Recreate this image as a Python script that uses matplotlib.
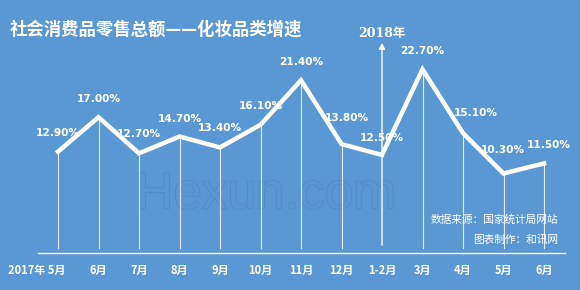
import matplotlib
matplotlib.use('Agg')
import matplotlib.pyplot as plt
import matplotlib.patheffects as pe

plt.rcParams['font.family'] = ['Noto Sans CJK SC', 'DejaVu Sans']

# 数据
months = ['2017年 5月', '6月', '7月', '8月', '9月', '10月', '11月', '12月',
          '1-2月', '3月', '4月', '5月', '6月']
growth = [12.9, 17.0, 12.7, 14.7, 13.4, 16.1, 21.4, 13.8, 12.5, 22.7, 15.1, 10.3, 11.5]
value_labels = ['12.90%', '17.00%', '12.70%', '14.70%', '13.40%', '16.10%', '21.40%',
                '13.80%', '12.50%', '22.70%', '15.10%', '10.30%', '11.50%']
# 标签偏移 (像素)
label_dx = [0, 0, 0, 0, 0, 0, 0, 5, 0, 0, 13, -1, 5]
label_dy = [19, 18, 19, 18, 19, 19, 18, 26, 17, 18, 20, 23, 18]

bg = '#5A98D3'
W, H = 580, 290
fig = plt.figure(figsize=(W / 100, H / 100), dpi=100, facecolor=bg)
ax = fig.add_axes([0, 0, 1, 1], facecolor=bg)

# 像素 -> 数据坐标
px = 40.5
ppv = 8.4
x0 = 58
y0 = 260
ax.set_xlim(-x0 / px, (W - x0) / px)
ax.set_ylim((y0 - H) / ppv, y0 / ppv)
ax.axis('off')


def vx(pix):
    return (pix - x0) / px


def vy(pix):
    return (y0 - pix) / ppv


xs = list(range(len(growth)))

# 水印
ax.text(vx(266), vy(195), 'Hexun.com', fontsize=37, family='Liberation Sans',
        color=bg, ha='center', va='center', zorder=1,
        path_effects=[pe.withStroke(linewidth=1.0, foreground='#5088C2')])

# 竖线
for i, v in enumerate(growth):
    if months[i] == '1-2月':
        ax.annotate('', xy=(i, vy(40)), xytext=(i, vy(248)),
                    arrowprops=dict(arrowstyle='-|>', color='white', lw=1.0,
                                    mutation_scale=9), zorder=2)
    else:
        ax.plot([i, i], [vy(248), v], color='white', lw=0.8, alpha=0.85, zorder=2)

ax.text(8, vy(34), '2018年', color='white', fontsize=9, weight='bold',
        ha='center', va='center', family=['DejaVu Serif', 'Noto Sans CJK SC'])

# 底线
ax.plot([vx(38), vx(565)], [vy(253), vy(253)], color='white', lw=1.0, zorder=2)

# 折线
ax.plot(xs, growth, color='white', lw=3.2, solid_joinstyle='miter', zorder=3)

# 数值标签
for i, v in enumerate(growth):
    ax.annotate(value_labels[i], xy=(i, v), xytext=(label_dx[i], label_dy[i]),
                textcoords='offset pixels', ha='center', va='center',
                color='white', fontsize=7.6, weight='bold', family='DejaVu Sans', zorder=4)

# 月份
for i, m in enumerate(months):
    xx = i if i > 0 else vx(37)
    ax.text(xx, vy(270), m, color='white', fontsize=8, weight='bold',
            ha='center', va='center')

# 标题
fig.text(10 / W, 1 - 30 / H, '社会消费品零售总额——化妆品类增速', color='white',
         fontsize=12.5, weight='bold', ha='left', va='center')

# 来源
fig.text(558 / W, 1 - 220 / H, '数据来源：国家统计局网站', color='white', fontsize=7.7,
         ha='right', va='center')
fig.text(558 / W, 1 - 240 / H, '图表制作：和讯网', color='white', fontsize=7.7,
         ha='right', va='center')

fig.savefig('out.png', dpi=100, facecolor=bg)
